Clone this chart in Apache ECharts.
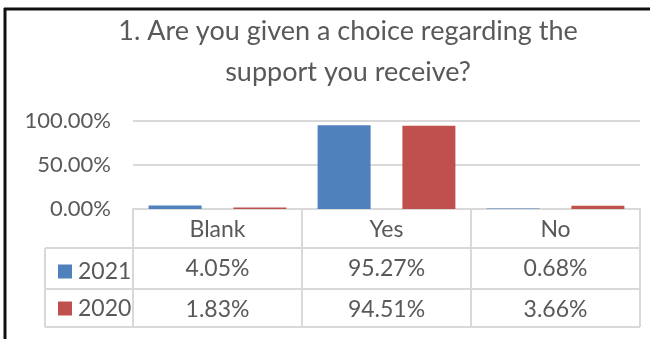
<!DOCTYPE html>
<html>
<head>
    <meta charset="utf-8">
    <title>ECharts</title>
    <script src="https://cdn.jsdelivr.net/npm/echarts@6/dist/echarts.min.js"></script>
    <style>
        html, body { margin: 0; padding: 0; background: #fff; }
    </style>
</head>
<body>
    <div id="main" style="width: 650px;height:339px;"></div>
    <script type="text/javascript">
        var myChart = echarts.init(document.getElementById('main'));

        // data
        var categories = ['Blank', 'Yes', 'No'];
        var seriesNames = ['2021', '2020'];
        var values2021 = [4.05, 95.27, 0.68];
        var values2020 = [1.83, 94.51, 3.66];
        var yTicks = [0, 50, 100];

        var FONT = 'Lato';
        var TEXT = '#595959';
        var GRIDLINE = '#d9d9d9';
        var pct = function (v) { return v.toFixed(2) + '%'; };

        // table geometry (grid: left 133, right 640, axis at 209)
        var gridLeft = 133, gridRight = 640, axisY = 209;
        var rowH = [39, 41, 38];   // header, 2021, 2020
        var tableLeft = 45;
        var rowBottoms = [axisY + rowH[0], axisY + rowH[0] + rowH[1], axisY + rowH[0] + rowH[1] + rowH[2]];

        var graphics = [
            // outer frame (top and left edges visible)
            { type: 'line', shape: { x1: 4, y1: 9, x2: 650, y2: 9 }, style: { stroke: '#111', lineWidth: 3 } },
            { type: 'line', shape: { x1: 5, y1: 8, x2: 5, y2: 339 }, style: { stroke: '#111', lineWidth: 3 } },
            // left column border of table
            { type: 'line', shape: { x1: tableLeft, y1: rowBottoms[0], x2: tableLeft, y2: rowBottoms[2] }, style: { stroke: GRIDLINE, lineWidth: 2 } }
        ];
        rowBottoms.forEach(function (y) {
            graphics.push({ type: 'line', shape: { x1: tableLeft, y1: y, x2: gridRight, y2: y }, style: { stroke: GRIDLINE, lineWidth: 2 } });
        });

        var rowAxis = function (labels, offset) {
            return {
                type: 'category',
                gridIndex: 0,
                position: 'bottom',
                offset: offset,
                data: labels,
                axisLine: { show: false },
                axisTick: { show: false },
                axisLabel: { interval: 0, margin: 9, fontFamily: FONT, fontSize: 23, color: TEXT }
            };
        };

        var option = {
            animation: false,
            title: {
                text: '1. Are you given a choice regarding the\nsupport you receive?',
                left: 343,
                textAlign: 'center',
                top: 6,
                textStyle: { fontFamily: FONT, fontSize: 27, fontWeight: 'normal', color: TEXT, lineHeight: 41 }
            },
            legend: {
                orient: 'vertical',
                left: 53,
                top: 255,
                itemWidth: 14,
                itemHeight: 14,
                itemGap: 14,
                icon: 'rect',
                data: seriesNames,
                textStyle: { fontFamily: FONT, fontSize: 23, color: TEXT, padding: [0, 0, 0, 1] }
            },
            grid: { left: gridLeft, right: 650 - gridRight, top: 121, bottom: 339 - axisY, containLabel: false },
            xAxis: [
                {
                    type: 'category',
                    data: categories,
                    axisLine: { show: true, lineStyle: { color: GRIDLINE, width: 2 } },
                    axisTick: { show: true, length: rowH[0] + rowH[1] + rowH[2], lineStyle: { color: GRIDLINE, width: 2 } },
                    axisLabel: { interval: 0, margin: 9, fontFamily: FONT, fontSize: 23, color: TEXT }
                },
                rowAxis(values2021.map(pct), rowH[0]),
                rowAxis(values2020.map(pct), rowH[0] + rowH[1])
            ],
            yAxis: {
                type: 'value',
                min: yTicks[0],
                max: yTicks[yTicks.length - 1],
                interval: yTicks[1] - yTicks[0],
                axisLine: { show: false },
                axisTick: { show: false },
                splitLine: { lineStyle: { color: GRIDLINE, width: 2 } },
                axisLabel: { margin: 22, fontFamily: FONT, fontSize: 22, color: TEXT, formatter: pct }
            },
            series: [
                {
                    name: seriesNames[0],
                    type: 'bar',
                    data: values2021,
                    barWidth: 53,
                    barGap: '60%',
                    itemStyle: { color: '#4f81bd' }
                },
                {
                    name: seriesNames[1],
                    type: 'bar',
                    data: values2020,
                    barWidth: 53,
                    barGap: '60%',
                    itemStyle: { color: '#c0504d' }
                }
            ],
            graphic: graphics
        };

        myChart.setOption(option);
    </script>
</body>
</html>
